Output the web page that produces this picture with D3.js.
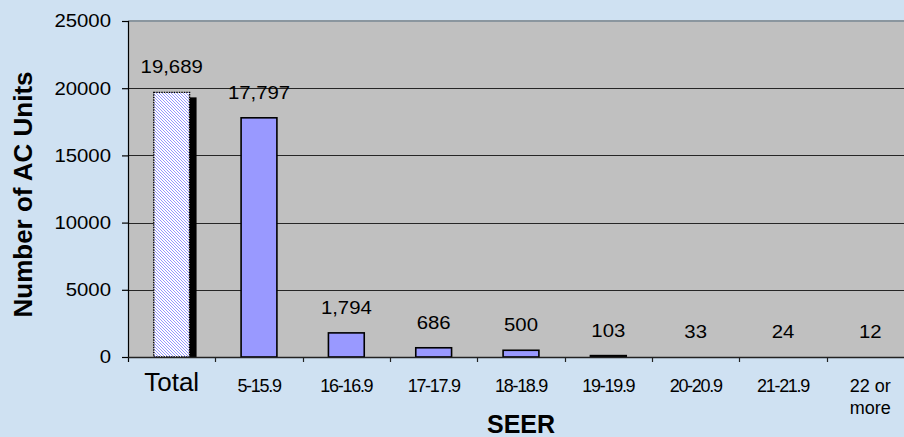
<!DOCTYPE html>
<html>
<head>
<meta charset="utf-8">
<script src="https://cdn.jsdelivr.net/npm/d3@7"></script>
<style>
  html, body { margin: 0; padding: 0; background: #cfe1f2; }
  svg { display: block; font-family: "Liberation Sans", Arial, sans-serif; }
</style>
</head>
<body>
<svg id="chart" width="904" height="437"></svg>
<script>
// ---- data ----
const categories = ["Total", "5-15.9", "16-16.9", "17-17.9", "18-18.9", "19-19.9", "20-20.9", "21-21.9", "22 or more"];
const values = [19689, 17797, 1794, 686, 500, 103, 33, 24, 12];
const yTicks = [0, 5000, 10000, 15000, 20000, 25000];
const yTitle = "Number of AC Units";
const xTitle = "SEER";

// ---- layout ----
const W = 904, H = 437;
const plot = { left: 128, right: 914, top: 21, bottom: 357 };

const svg = d3.select("#chart");
svg.append("rect").attr("width", W).attr("height", H).attr("fill", "#cfe1f2");

const defs = svg.append("defs");
const pat = defs.append("pattern")
  .attr("id", "hatch").attr("patternUnits", "userSpaceOnUse")
  .attr("width", 3).attr("height", 3);
pat.append("rect").attr("width", 3).attr("height", 3).attr("fill", "#ffffff");
pat.append("path").attr("d", "M0,0L3,3M-1,2L1,4M2,-1L4,1")
  .attr("stroke", "#8a8aff").attr("stroke-width", 0.9);

const x = d3.scaleBand().domain(categories).range([plot.left, plot.right]).padding(0);
const y = d3.scaleLinear().domain([0, 25000]).range([plot.bottom, plot.top]);
const barW = x.bandwidth() * 0.41;
const fmt = d3.format(",");

// plot area background
svg.append("rect")
  .attr("x", plot.left).attr("y", plot.top)
  .attr("width", plot.right - plot.left).attr("height", plot.bottom - plot.top)
  .attr("fill", "#c0c0c0");
// top border
svg.append("line")
  .attr("x1", plot.left).attr("x2", plot.right)
  .attr("y1", plot.top).attr("y2", plot.top)
  .attr("stroke", "#8a969f").attr("stroke-width", 2);

// gridlines
svg.append("g").selectAll("line")
  .data(yTicks.filter(t => t > 0 && t < 25000))
  .join("line")
  .attr("x1", plot.left).attr("x2", plot.right)
  .attr("y1", d => Math.round(y(d)) + 0.5).attr("y2", d => Math.round(y(d)) + 0.5)
  .attr("stroke", "#262626").attr("stroke-width", 1);

// shadow for total bar
const bars = categories.map((c, i) => ({ c, v: values[i], i }));
svg.append("g").selectAll("rect")
  .data(bars.filter(d => d.i === 0))
  .join("rect")
  .attr("x", d => x(d.c) + (x.bandwidth() - barW) / 2 + 7)
  .attr("y", d => y(d.v) + 5)
  .attr("width", barW)
  .attr("height", d => y(0) - y(d.v) - 5)
  .attr("fill", "#000");

// bars (bars thinner than a pixel are not drawn, as in the reference)
svg.append("g").selectAll("rect")
  .data(bars.filter(d => y(0) - y(d.v) >= 1))
  .join("rect")
  .attr("x", d => x(d.c) + (x.bandwidth() - barW) / 2)
  .attr("y", d => y(d.v))
  .attr("width", barW)
  .attr("height", d => y(0) - y(d.v))
  .attr("fill", d => d.i === 0 ? "url(#hatch)" : "#9999ff")
  .attr("stroke", "#000")
  .attr("stroke-width", d => d.i === 0 ? 1.4 : 1.6)
  .attr("stroke-dasharray", d => d.i === 0 ? "1.5,1" : null);

// value labels
svg.append("g").selectAll("text")
  .data(bars)
  .join("text")
  .attr("transform", d => `translate(${x(d.c) + x.bandwidth() / 2},${y(d.v) - 19}) scale(1.1,1)`)
  .attr("text-anchor", "middle")
  .attr("font-size", 18.5)
  .attr("fill", "#000")
  .text(d => fmt(d.v));

// y axis
const yAxis = d3.axisLeft(y).tickValues(yTicks).tickSize(6).tickPadding(9.5).tickFormat(d => String(d));
const gy = svg.append("g").attr("transform", `translate(${plot.left},0)`).call(yAxis);
gy.select(".domain").remove();
gy.selectAll(".tick line").attr("stroke", "#000").attr("stroke-width", 1.2);
gy.selectAll(".tick text")
  .attr("font-size", 18.5)
  .attr("font-family", "Liberation Sans, Arial, sans-serif")
  .attr("fill", "#000")
  .attr("transform", "scale(1.1,1)")
  .attr("x", -15.5);
svg.append("line")
  .attr("x1", plot.left + 0.5).attr("x2", plot.left + 0.5)
  .attr("y1", plot.top).attr("y2", plot.bottom + 5)
  .attr("stroke", "#000").attr("stroke-width", 1.2);

// x axis line and boundary ticks
svg.append("line")
  .attr("x1", plot.left).attr("x2", plot.right)
  .attr("y1", plot.bottom + 0.5).attr("y2", plot.bottom + 0.5)
  .attr("stroke", "#222").attr("stroke-width", 1.3);
svg.append("g").selectAll("line")
  .data(categories.slice(1))
  .join("line")
  .attr("x1", d => Math.round(x(d)) + 0.5).attr("x2", d => Math.round(x(d)) + 0.5)
  .attr("y1", plot.bottom).attr("y2", plot.bottom + 5)
  .attr("stroke", "#222").attr("stroke-width", 1.2);

// category labels
const cl = svg.append("g").selectAll("text")
  .data(categories)
  .join("text")
  .attr("x", d => x(d) + x.bandwidth() / 2)
  .attr("y", d => d === "Total" ? 391 : 391.5)
  .attr("text-anchor", "middle")
  .attr("font-size", d => d === "Total" ? 26 : 18)
  .attr("letter-spacing", d => d.includes("-") ? -1.3 : 0)
  .attr("fill", "#000");
cl.each(function (d) {
  const t = d3.select(this);
  if (d === "22 or more") {
    t.append("tspan").attr("x", x(d) + x.bandwidth() / 2).attr("dy", 0).text("22 or");
    t.append("tspan").attr("x", x(d) + x.bandwidth() / 2).attr("dy", 22).text("more");
  } else {
    t.text(d);
  }
});

// axis titles
svg.append("text")
  .attr("x", (plot.left + plot.right) / 2)
  .attr("y", 433)
  .attr("text-anchor", "middle")
  .attr("font-size", 25)
  .attr("font-weight", "bold")
  .text(xTitle);
svg.append("text")
  .attr("transform", `translate(32,194.5) rotate(-90)`)
  .attr("text-anchor", "middle")
  .attr("font-size", 26)
  .attr("font-weight", "bold")
  .text(yTitle);
</script>
</body>
</html>
